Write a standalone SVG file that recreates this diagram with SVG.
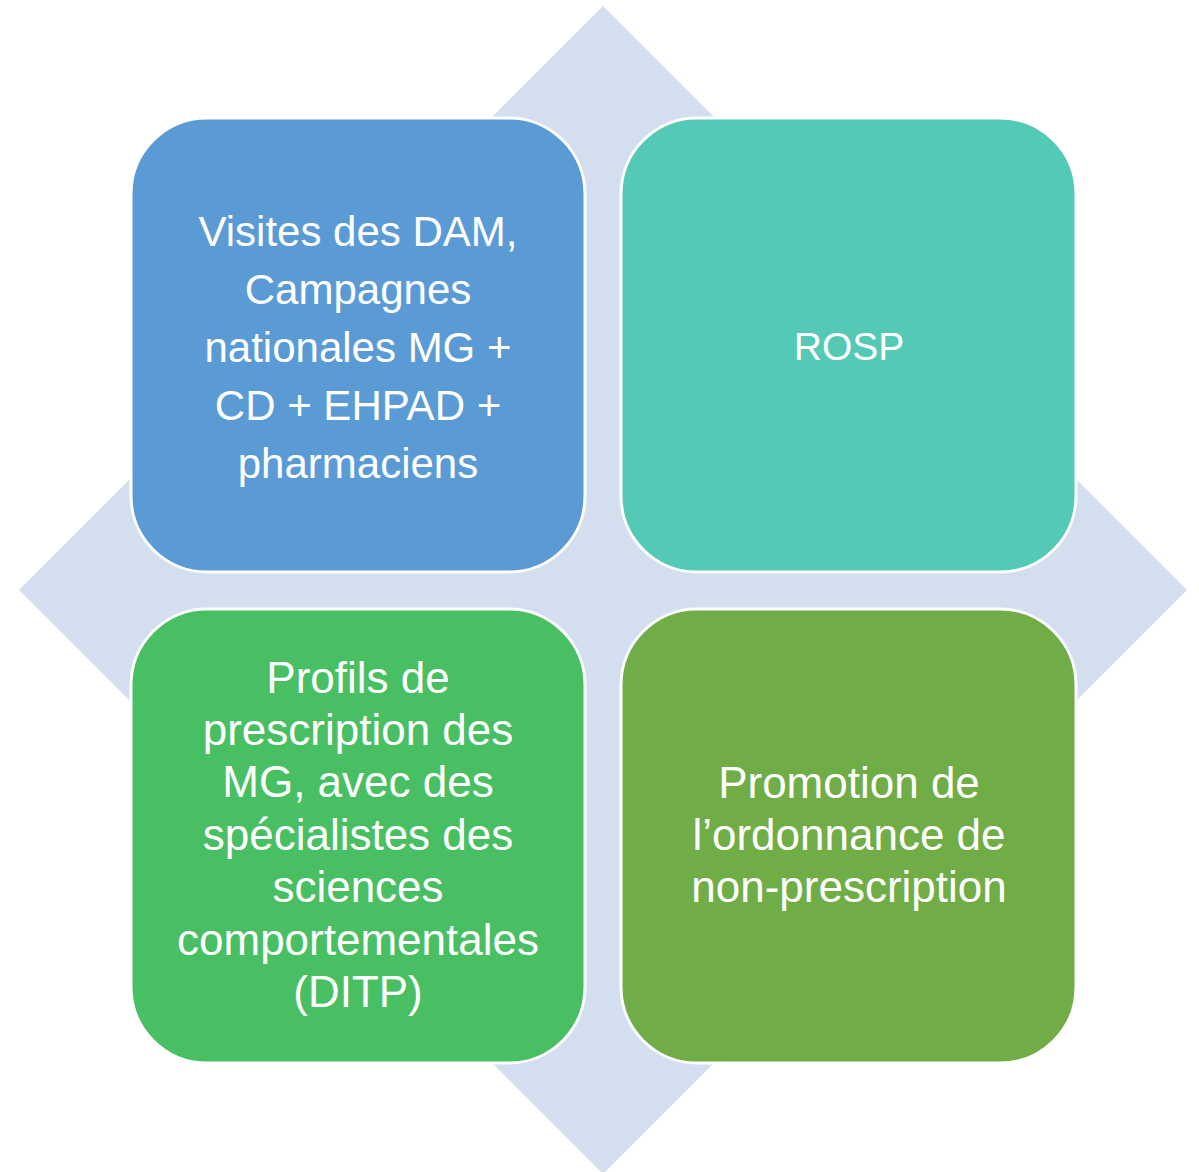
<svg xmlns="http://www.w3.org/2000/svg" width="1199" height="1172" viewBox="0 0 1199 1172">
<style>
.box{stroke:#ffffff;stroke-width:3}
.t{font-family:"Liberation Sans",Arial,sans-serif;fill:#ffffff;text-anchor:middle}
.big{font-size:42px}
.sm{font-size:44px}
</style>
<rect width="1199" height="1172" fill="#ffffff"/>
<g id="diamond"><polygon points="603,6 1187,590 603,1174 19,590" fill="#D3DEEF"/></g>
<g id="connectors"></g>
<g id="node-visites">
<rect class="box" x="131" y="118" width="454" height="454" rx="76" fill="#5B9BD5"/>
<text class="t big"><tspan x="358" y="246">Visites des DAM,</tspan><tspan x="358" y="304">Campagnes</tspan><tspan x="358" y="362">nationales MG +</tspan><tspan x="358" y="420">CD + EHPAD +</tspan><tspan x="358" y="478">pharmaciens</tspan></text>
</g>
<g id="node-rosp">
<rect class="box" x="621" y="118" width="455" height="454" rx="76" fill="#53C9B6"/>
<text class="t" style="font-size:39px" x="849" y="360">ROSP</text>
</g>
<g id="node-profils">
<rect class="box" x="131" y="609" width="454" height="454" rx="76" fill="#49BF63"/>
<text class="t sm"><tspan x="358" y="693">Profils de</tspan><tspan x="358" y="745">prescription des</tspan><tspan x="358" y="797">MG, avec des</tspan><tspan x="358" y="850">spécialistes des</tspan><tspan x="358" y="902">sciences</tspan><tspan x="358" y="955">comportementales</tspan><tspan x="358" y="1007">(DITP)</tspan></text>
</g>
<g id="node-promotion">
<rect class="box" x="621" y="609" width="455" height="454" rx="76" fill="#70AD47"/>
<text class="t sm"><tspan x="849" y="798">Promotion de</tspan><tspan x="849" y="850">l’ordonnance de</tspan><tspan x="849" y="902">non-prescription</tspan></text>
</g>
</svg>
